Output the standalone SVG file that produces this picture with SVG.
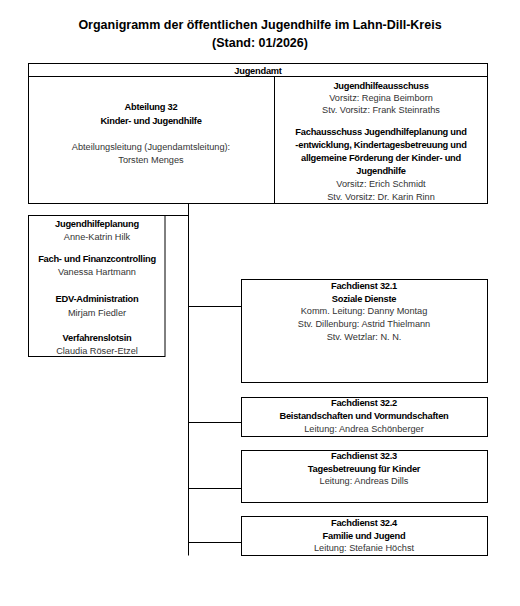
<svg xmlns="http://www.w3.org/2000/svg" width="520" height="606" viewBox="0 0 520 606">
<style>
text{font-family:"Liberation Sans",Arial,sans-serif;text-anchor:middle;fill:#222}
.t{font-size:12.5px;font-weight:bold;fill:#000}
.b{font-size:9.3px;font-weight:bold;fill:#000;letter-spacing:-0.25px}
.r{font-size:9.2px;fill:#333}
.box{fill:#fff;stroke:#000;stroke-width:1}
.ln{stroke:#000;stroke-width:1;fill:none}
</style>
<rect width="520" height="606" fill="#fff"/>
<g id="title">
<text class="t" x="260" y="29">Organigramm der öffentlichen Jugendhilfe im Lahn-Dill-Kreis</text>
<text class="t" x="260" y="47">(Stand: 01/2026)</text>
</g>
<g id="connectors">
<path class="ln" d="M188.5 203 V555.5 M165 215.5 H188.5 M188.5 306.5 H241 M188.5 422.5 H241 M188.5 488.5 H241 M188.5 542.5 H241"/>
</g>
<g id="jugendamt">
<rect class="box" x="28.5" y="63.5" width="459" height="140"/>
<path class="ln" d="M28.5 76.5 H487.5 M274.5 76.5 V203.5"/>
<text class="b" x="258" y="73.5">Jugendamt</text>
</g>
<g id="abteilung32">
<text class="b" x="151" y="110">Abteilung 32</text>
<text class="b" x="151" y="124">Kinder- und Jugendhilfe</text>
<text class="r" x="151" y="150">Abteilungsleitung (Jugendamtsleitung):</text>
<text class="r" x="151" y="163">Torsten Menges</text>
</g>
<g id="ausschuss">
<text class="b" x="381" y="89">Jugendhilfeausschuss</text>
<text class="r" x="381" y="101">Vorsitz: Regina Beimborn</text>
<text class="r" x="381" y="113">Stv. Vorsitz: Frank Steinraths</text>
<text class="b" x="381" y="135">Fachausschuss Jugendhilfeplanung und</text>
<text class="b" x="381" y="148">-entwicklung, Kindertagesbetreuung und</text>
<text class="b" x="381" y="161">allgemeine Förderung der Kinder- und</text>
<text class="b" x="381" y="174">Jugendhilfe</text>
<text class="r" x="381" y="187">Vorsitz: Erich Schmidt</text>
<text class="r" x="381" y="200">Stv. Vorsitz: Dr. Karin Rinn</text>
</g>
<g id="stab">
<rect class="box" x="28.5" y="215.5" width="136.5" height="141"/>
<text class="b" x="97" y="227">Jugendhilfeplanung</text>
<text class="r" x="97" y="240">Anne-Katrin Hilk</text>
<text class="b" x="97" y="262">Fach- und Finanzcontrolling</text>
<text class="r" x="97" y="275">Vanessa Hartmann</text>
<text class="b" x="97" y="302">EDV-Administration</text>
<text class="r" x="97" y="316">Mirjam Fiedler</text>
<text class="b" x="97" y="341">Verfahrenslotsin</text>
<text class="r" x="97" y="354">Claudia Röser-Etzel</text>
</g>
<g id="fd321">
<rect class="box" x="241.5" y="279.5" width="246" height="103"/>
<text class="b" x="364" y="289">Fachdienst 32.1</text>
<text class="b" x="364" y="302">Soziale Dienste</text>
<text class="r" x="364" y="314">Komm. Leitung: Danny Montag</text>
<text class="r" x="364" y="327">Stv. Dillenburg: Astrid Thielmann</text>
<text class="r" x="364" y="340">Stv. Wetzlar: N. N.</text>
</g>
<g id="fd322">
<rect class="box" x="241.5" y="397.5" width="246" height="39"/>
<text class="b" x="364" y="406">Fachdienst 32.2</text>
<text class="b" x="364" y="419">Beistandschaften und Vormundschaften</text>
<text class="r" x="364" y="432">Leitung: Andrea Schönberger</text>
</g>
<g id="fd323">
<rect class="box" x="241.5" y="450.5" width="246" height="52"/>
<text class="b" x="364" y="459">Fachdienst 32.3</text>
<text class="b" x="364" y="472">Tagesbetreuung für Kinder</text>
<text class="r" x="364" y="484">Leitung: Andreas Dills</text>
</g>
<g id="fd324">
<rect class="box" x="241.5" y="516.5" width="246" height="39"/>
<text class="b" x="364" y="526">Fachdienst 32.4</text>
<text class="b" x="364" y="539">Familie und Jugend</text>
<text class="r" x="364" y="551">Leitung: Stefanie Höchst</text>
</g>
</svg>
